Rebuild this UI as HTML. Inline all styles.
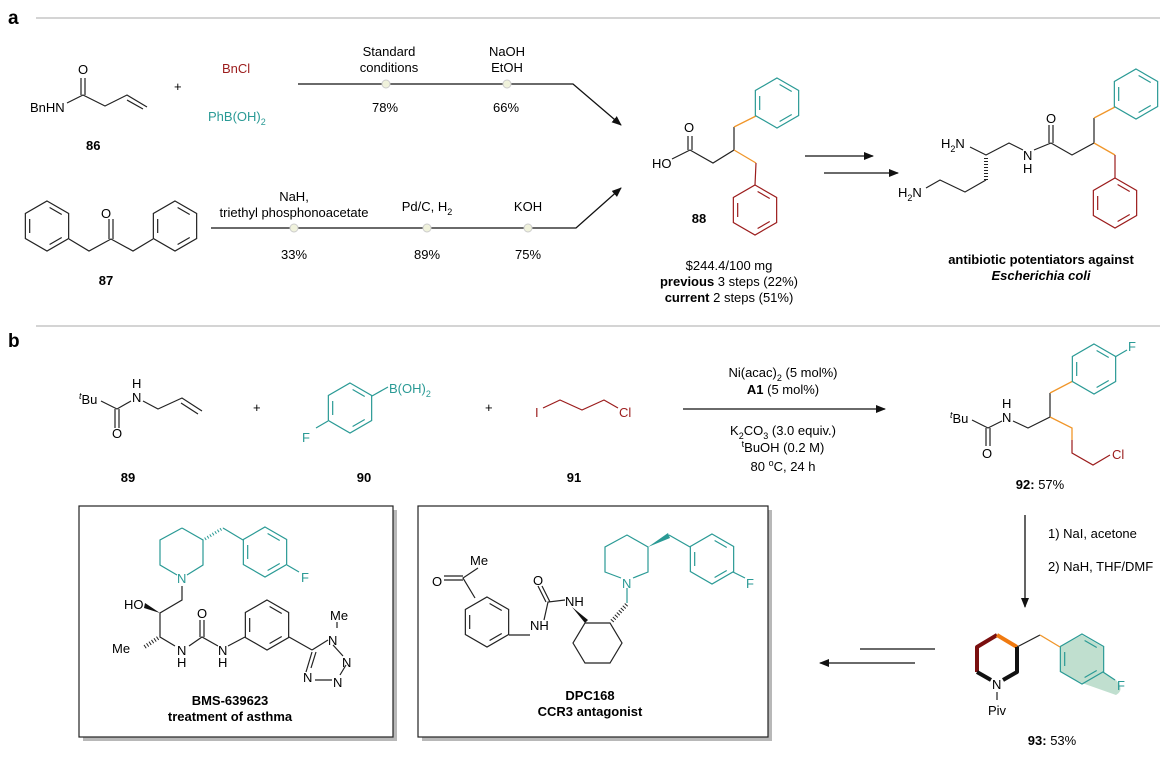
<!DOCTYPE html>
<html><head><meta charset="utf-8"><style>
body{margin:0;background:#fff}
svg{display:block;font-family:"Liberation Sans",Arial,sans-serif;font-size:13px}
.k{stroke:#222;stroke-width:1.2;fill:none}
.t{stroke:#2a9a95;stroke-width:1.2;fill:none}
.r{stroke:#9b1c1c;stroke-width:1.2;fill:none}
.o{stroke:#f0962a;stroke-width:1.3;fill:none}
.b{font-weight:bold}
</style></head><body>
<svg width="1165" height="761" viewBox="0 0 1165 761" xmlns="http://www.w3.org/2000/svg">
<defs>
<g id="bz" fill="none" stroke="currentColor" stroke-width="1.2">
<polygon points="0,-25 21.65,-12.5 21.65,12.5 0,25 -21.65,12.5 -21.65,-12.5"/>
<polygon points="0,-20 17.32,-10 17.32,10 0,20 -17.32,10 -17.32,-10" stroke-dasharray="0 3 14 23"/>
</g>
<marker id="ah" markerWidth="10" markerHeight="8" refX="9" refY="4" orient="auto" markerUnits="userSpaceOnUse"><path d="M0,0 L10,4 L0,8 z" fill="#111"/></marker>
</defs>

<!-- section a -->
<text x="8" y="24" font-size="19" class="b">a</text>
<line x1="36" y1="18" x2="1160" y2="18" stroke="#bbb" stroke-width="1.2"/>

<!-- 86 -->
<text x="30" y="112">BnHN</text>
<text x="78" y="74">O</text>
<path class="k" d="M67,103 L83,95 L105,106 L127,95 L147,107 M127,100 L143,109 M81,95 V78 M85,95 V78"/>
<text x="86" y="150" class="b">86</text>
<text x="174" y="91">+</text>
<text x="222" y="73" fill="#9b1c1c">BnCl</text>
<text x="208" y="121" fill="#2a9a95">PhB(OH)<tspan font-size="9" dy="4">2</tspan></text>

<!-- top route -->
<path d="M298,84 H573 L621,125" stroke="#111" stroke-width="1.3" fill="none" marker-end="url(#ah)"/>
<circle cx="386" cy="84" r="4" fill="#f0f2dc" stroke="#ccc"/>
<circle cx="507" cy="84" r="4" fill="#f0f2dc" stroke="#ccc"/>
<g text-anchor="middle">
<text x="389" y="56">Standard</text><text x="389" y="72">conditions</text>
<text x="507" y="56">NaOH</text><text x="507" y="72">EtOH</text>
<text x="385" y="112">78%</text><text x="506" y="112">66%</text>
</g>

<!-- 87 -->
<use href="#bz" x="47" y="226" style="color:#222"/>
<use href="#bz" x="175" y="226" style="color:#222"/>
<path class="k" d="M69,239 L89,251 L111,239 L133,251 L153,239 M109,239 V219 M113,239 V219"/>
<text x="106" y="218" text-anchor="middle">O</text>
<text x="106" y="285" text-anchor="middle" class="b">87</text>

<!-- bottom route -->
<path d="M211,228 H576 L621,188" stroke="#111" stroke-width="1.3" fill="none" marker-end="url(#ah)"/>
<circle cx="294" cy="228" r="4" fill="#f0f2dc" stroke="#ccc"/>
<circle cx="427" cy="228" r="4" fill="#f0f2dc" stroke="#ccc"/>
<circle cx="528" cy="228" r="4" fill="#f0f2dc" stroke="#ccc"/>
<g text-anchor="middle">
<text x="294" y="201">NaH,</text><text x="294" y="217">triethyl phosphonoacetate</text>
<text x="427" y="211">Pd/C, H<tspan font-size="9" dy="4">2</tspan></text>
<text x="528" y="211">KOH</text>
<text x="294" y="259">33%</text><text x="427" y="259">89%</text><text x="528" y="259">75%</text>
</g>

<!-- 88 -->
<text x="652" y="168">HO</text>
<text x="684" y="132">O</text>
<path class="k" d="M672,159 L690,150 L713,163 L734,150 V127 M688,150 V136 M692,150 V136"/>
<path class="o" d="M734,127 L756,116 M734,150 L756,163"/>
<path class="r" d="M756,163 L755,185"/>
<use href="#bz" x="777" y="103" style="color:#2a9a95"/>
<use href="#bz" x="755" y="210" style="color:#9b1c1c"/>
<text x="699" y="223" text-anchor="middle" class="b">88</text>
<g text-anchor="middle">
<text x="729" y="270">$244.4/100 mg</text>
<text x="729" y="286"><tspan class="b">previous</tspan> 3 steps (22%)</text>
<text x="729" y="302"><tspan class="b">current</tspan> 2 steps (51%)</text>
</g>
<line x1="805" y1="156" x2="873" y2="156" stroke="#111" stroke-width="1.3" marker-end="url(#ah)"/>
<line x1="824" y1="173" x2="898" y2="173" stroke="#111" stroke-width="1.3" marker-end="url(#ah)"/>

<!-- product a -->
<text x="941" y="148">H<tspan font-size="9" dy="4">2</tspan><tspan dy="-4">N</tspan></text>
<text x="898" y="197">H<tspan font-size="9" dy="4">2</tspan><tspan dy="-4">N</tspan></text>
<path class="k" d="M970,147 L986,155 L1009,143 L1023,150 M1034,150 L1051,143 L1072,155 L1094,143 V118 M1049,143 V125 M1053,143 V125 M986,180 L965,192 L940,180 L926,188"/>
<path d="M986,158 V180" stroke="#222" stroke-width="4" stroke-dasharray="1 2" fill="none"/>
<text x="1023" y="160">N</text><text x="1023" y="173">H</text>
<text x="1046" y="123">O</text>
<path class="o" d="M1094,118 L1115,107 M1094,143 L1115,155"/>
<path class="r" d="M1115,155 V178"/>
<use href="#bz" x="1136" y="94" style="color:#2a9a95"/>
<use href="#bz" x="1115" y="203" style="color:#9b1c1c"/>
<g text-anchor="middle" class="b">
<text x="1041" y="264">antibiotic potentiators against</text>
<text x="1041" y="280" font-style="italic">Escherichia coli</text>
</g>

<!-- section b -->
<text x="8" y="347" font-size="19" class="b">b</text>
<line x1="36" y1="326" x2="1160" y2="326" stroke="#bbb" stroke-width="1.2"/>

<!-- 89 -->
<text x="79" y="404"><tspan font-size="9" font-style="italic" dy="-5">t</tspan><tspan dy="5">Bu</tspan></text>
<path class="k" d="M101,401 L117,409 L131,401 M143,401 L158,409 L182,398 L202,411 M181,403 L198,414 M115,409 V428 M119,409 V428"/>
<text x="132" y="402">N</text><text x="132" y="388">H</text>
<text x="112" y="438">O</text>
<text x="128" y="482" text-anchor="middle" class="b">89</text>
<text x="253" y="412">+</text>

<!-- 90 -->
<use href="#bz" x="350" y="408" style="color:#2a9a95"/>
<path class="t" d="M372,396 L388,387 M328,421 L316,428"/>
<text x="389" y="393" fill="#2a9a95">B(OH)<tspan font-size="9" dy="4">2</tspan></text>
<text x="302" y="442" fill="#2a9a95">F</text>
<text x="364" y="482" text-anchor="middle" class="b">90</text>
<text x="485" y="412">+</text>

<!-- 91 -->
<text x="535" y="417" fill="#9b1c1c">I</text>
<path class="r" d="M543,408 L560,400 L582,410 L604,400 L618,408"/>
<text x="619" y="417" fill="#9b1c1c">Cl</text>
<text x="574" y="482" text-anchor="middle" class="b">91</text>

<!-- reaction arrow -->
<line x1="683" y1="409" x2="885" y2="409" stroke="#111" stroke-width="1.3" marker-end="url(#ah)"/>
<g text-anchor="middle">
<text x="783" y="377">Ni(acac)<tspan font-size="9" dy="4">2</tspan><tspan dy="-4"> (5 mol%)</tspan></text>
<text x="783" y="394"><tspan class="b">A1</tspan> (5 mol%)</text>
<text x="783" y="435">K<tspan font-size="9" dy="4">2</tspan><tspan dy="-4">CO</tspan><tspan font-size="9" dy="4">3</tspan><tspan dy="-4"> (3.0 equiv.)</tspan></text>
<text x="783" y="452"><tspan font-size="9" dy="-5">t</tspan><tspan dy="5">BuOH (0.2 M)</tspan></text>
<text x="783" y="471">80 <tspan font-size="9" dy="-5">o</tspan><tspan dy="5">C, 24 h</tspan></text>
</g>

<!-- 92 -->
<text x="950" y="423"><tspan font-size="9" font-style="italic" dy="-5">t</tspan><tspan dy="5">Bu</tspan></text>
<path class="k" d="M972,420 L988,428 L1002,421 M1013,421 L1028,428 L1050,417 V393 M986,428 V446 M990,428 V446"/>
<text x="1002" y="422">N</text><text x="1002" y="408">H</text>
<text x="982" y="458">O</text>
<path class="o" d="M1050,393 L1073,381 M1050,417 L1072,428 V440"/>
<path class="r" d="M1072,440 V453 L1093,465 L1110,455"/>
<use href="#bz" x="1094" y="369" style="color:#2a9a95"/>
<path class="t" d="M1115,357 L1127,350"/>
<text x="1128" y="351" fill="#2a9a95">F</text>
<text x="1112" y="459" fill="#9b1c1c">Cl</text>
<text x="1040" y="489" text-anchor="middle"><tspan class="b">92:</tspan> 57%</text>

<!-- down arrow -->
<line x1="1025" y1="515" x2="1025" y2="607" stroke="#111" stroke-width="1.3" marker-end="url(#ah)"/>
<text x="1048" y="538">1) NaI, acetone</text>
<text x="1048" y="571">2) NaH, THF/DMF</text>

<!-- 93 -->
<path d="M1082,635 L1103,647 V672 L1116,680 Q1125,690 1116,695 L1082,683 L1060,672 V647 Z" fill="#b9dcca" opacity="0.9"/>
<use href="#bz" x="1082" y="659" style="color:#2a9a95"/>
<path class="t" d="M1103,672 L1115,680"/>
<text x="1117" y="690" fill="#2a9a95">F</text>
<path d="M977,672 V647 L997,635" stroke="#7a0f0f" stroke-width="4" fill="none" stroke-linejoin="round"/>
<path d="M997,635 L1017,647" stroke="#f07a10" stroke-width="4" fill="none"/>
<path d="M1017,647 V672 L1003,680 M991,680 L977,672" stroke="#111" stroke-width="4" fill="none" stroke-linejoin="round"/>
<path class="k" d="M1017,647 L1040,635"/>
<path class="o" d="M1040,635 L1060,647"/>
<text x="992" y="689">N</text>
<path class="k" d="M997,692 V700"/>
<text x="988" y="715">Piv</text>
<text x="1052" y="745" text-anchor="middle"><tspan class="b">93:</tspan> 53%</text>

<!-- left arrows -->
<line x1="860" y1="649" x2="935" y2="649" stroke="#111" stroke-width="1.3"/>
<line x1="915" y1="663" x2="820" y2="663" stroke="#111" stroke-width="1.3" marker-end="url(#ah)"/>

<!-- box 1 -->
<rect x="83" y="510" width="314" height="231" fill="#b8b8b8"/>
<rect x="79" y="506" width="314" height="231" fill="#fff" stroke="#222" stroke-width="1.2"/>
<path class="t" d="M182,528 L160,540 V565 L177,575 M187,575 L203,565 V540 L182,528"/>
<path d="M205,539 L223,528" stroke="#2a9a95" stroke-width="3" stroke-dasharray="1 2" fill="none"/>
<path class="t" d="M223,528 L243,540"/>
<use href="#bz" x="265" y="552" style="color:#2a9a95"/>
<path class="t" d="M287,565 L299,572"/>
<text x="301" y="582" fill="#2a9a95">F</text>
<text x="177" y="583" fill="#2a9a95">N</text>
<path class="k" d="M182,586 V600 L160,613 V637 L175,646 M189,646 L202,637 L218,646 M228,646 L245,637 M200,637 V620 M204,637 V620 M289,637 L312,650"/>
<polygon points="160,613 145,603 144,608" fill="#111"/>
<text x="124" y="609">HO</text>
<path d="M158,638 L143,648" stroke="#222" stroke-width="4" stroke-dasharray="1 2" fill="none"/>
<text x="112" y="653">Me</text>
<text x="177" y="655">N</text><text x="177" y="667">H</text>
<text x="197" y="618">O</text>
<text x="218" y="655">N</text><text x="218" y="667">H</text>
<use href="#bz" x="267" y="625" style="color:#222"/>
<path class="k" d="M312,650 L328,640 M333,645 L343,656 M346,665 L340,675 M332,680 L315,680 M306,672 L312,652 M316,652 L311,668 M337,628 V622"/>
<text x="328" y="645">N</text><text x="342" y="667">N</text><text x="333" y="687">N</text><text x="303" y="682">N</text>
<text x="330" y="620">Me</text>
<g text-anchor="middle" class="b">
<text x="230" y="705">BMS-639623</text>
<text x="230" y="721">treatment of asthma</text>
</g>

<!-- box 2 -->
<rect x="422" y="510" width="350" height="231" fill="#b8b8b8"/>
<rect x="418" y="506" width="350" height="231" fill="#fff" stroke="#222" stroke-width="1.2"/>
<text x="470" y="565">Me</text>
<text x="432" y="586">O</text>
<path class="k" d="M478,568 L463,578 L475,598 M463,576 L444,576 M463,580 L444,580 M509,635 L530,635"/>
<use href="#bz" x="487" y="622" style="color:#222"/>
<text x="530" y="630">NH</text>
<path class="k" d="M544,620 L548,602 L565,600 M546,602 L538,586 M550,602 L542,586"/>
<text x="533" y="585">O</text>
<text x="565" y="606">NH</text>
<polygon points="572,607 585,623 588,620" fill="#111"/>
<path class="k" d="M585,623 L610,623 L622,643 L610,663 L585,663 L573,643 Z"/>
<path d="M612,621 L627,604" stroke="#222" stroke-width="4" stroke-dasharray="1 2" fill="none"/>
<path d="M627,603 V588" stroke="#2a9a95" stroke-width="1.2"/>
<text x="622" y="588" fill="#2a9a95">N</text>
<path class="t" d="M621,578 L605,572 V547 L627,535 L648,547 V572 L633,578"/>
<polygon points="648,547 668,533 670,538" fill="#2a9a95"/>
<path class="t" d="M669,535 L690,547"/>
<use href="#bz" x="712" y="559" style="color:#2a9a95"/>
<path class="t" d="M733,572 L745,578"/>
<text x="746" y="588" fill="#2a9a95">F</text>
<g text-anchor="middle" class="b">
<text x="590" y="700">DPC168</text>
<text x="590" y="716">CCR3 antagonist</text>
</g>
</svg>
</body></html>
